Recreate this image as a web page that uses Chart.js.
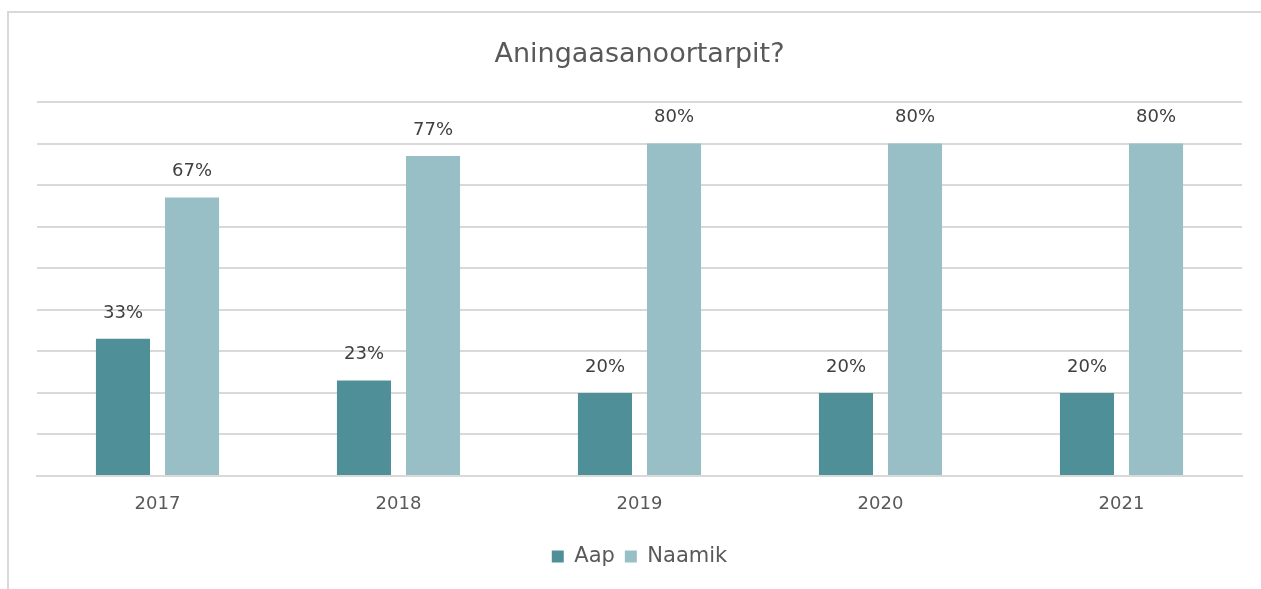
<!DOCTYPE html>
<html>
<head>
<meta charset="utf-8">
<script src="https://cdn.jsdelivr.net/npm/chart.js@4/dist/chart.umd.min.js"></script>
<style>
  html, body { margin: 0; padding: 0; background: #fff; overflow: hidden; }
  #frame { position: absolute; left: 7px; top: 11px; width: 1300px; height: 700px; border: 2px solid #d9d9d9; box-sizing: border-box; }
  #wrap { position: absolute; left: 0; top: 0; width: 1261px; height: 589px; }
</style>
</head>
<body>
<div id="frame"></div>
<div id="wrap"><canvas id="chart"></canvas></div>
<script>
// ------ Datos ------
const years = ['2017', '2018', '2019', '2020', '2021'];
const aap = [33, 23, 20, 20, 20];
const naamik = [67, 77, 80, 80, 80];

const FONT = '"DejaVu Sans", sans-serif';

// etiquetas encima de las barras
const barLabels = {
  id: 'barLabels',
  afterDatasetsDraw(chart) {
    const { ctx } = chart;
    ctx.save();
    ctx.font = '18px ' + FONT;
    ctx.fillStyle = '#404040';
    ctx.textAlign = 'center';
    ctx.textBaseline = 'middle';
    chart.data.datasets.forEach((ds, i) => {
      chart.getDatasetMeta(i).data.forEach((bar, j) => {
        ctx.fillText(ds.data[j] + '%', bar.x, bar.y - 26);
      });
    });
    ctx.restore();
  }
};

new Chart(document.getElementById('chart'), {
  type: 'bar',
  data: {
    labels: years,
    datasets: [
      { label: 'Aap', data: aap, backgroundColor: '#4f8f98' },
      { label: 'Naamik', data: naamik, backgroundColor: '#98bfc6' }
    ]
  },
  options: {
    animation: false,
    responsive: true,
    maintainAspectRatio: false,
    categoryPercentage: 0.573,
    barPercentage: 0.783,
    layout: { padding: { left: 37, right: 19, top: 0, bottom: 12 } },
    plugins: {
      title: {
        display: true,
        text: 'Aningaasanoortarpit?',
        color: '#595959',
        font: { family: FONT, size: 27, weight: 'normal', lineHeight: 1.2 },
        padding: { top: 39, bottom: 30.6 }
      },
      legend: {
        position: 'bottom',
        labels: { color: '#595959', boxWidth: 12, boxHeight: 12, padding: 10, font: { family: FONT, size: 21 } }
      },
      tooltip: { enabled: false }
    },
    scales: {
      x: {
        grid: { display: false, drawTicks: false },
        border: { color: '#d9d9d9', width: 2 },
        ticks: { color: '#595959', padding: 18, font: { family: FONT, size: 18 } },
        afterFit: (s) => { s.height = 60; }
      },
      y: {
        min: 0, max: 90,
        ticks: { display: false, stepSize: 10 },
        grid: { color: '#d9d9d9', lineWidth: 2, drawTicks: false },
        border: { display: false },
        afterFit: (s) => { s.width = 0; }
      }
    }
  },
  plugins: [barLabels]
});
</script>
</body>
</html>
